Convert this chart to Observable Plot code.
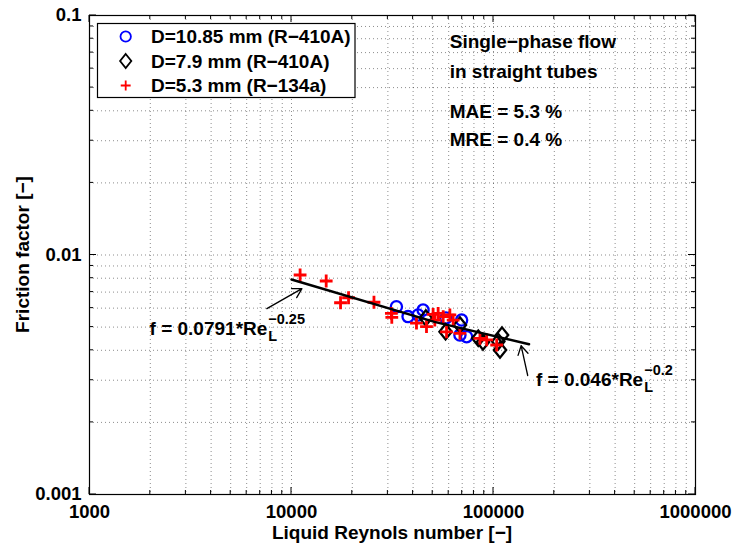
<!DOCTYPE html>
<html><head><meta charset="utf-8">
<script src="https://cdn.jsdelivr.net/npm/d3@7"></script>
<script src="https://cdn.jsdelivr.net/npm/@observablehq/plot@0.6"></script>
<style>
body{margin:0;background:#fff;}
#chart{width:736px;height:544px;}
</style></head><body><div id="chart"></div>
<script>
// ---- data ----
const seriesNames = ["D=10.85 mm (R\u2212410A)", "D=7.9 mm (R\u2212410A)", "D=5.3 mm (R\u2212134a)"];
const circRe = [33070, 37760, 44810, 42330, 69520, 68200, 73600, 58120];
const circF  = [0.00608, 0.00553, 0.00589, 0.00562, 0.00535, 0.00463, 0.00456, 0.00546];
const diamRe = [46230, 57900, 84040, 105600, 107700, 68200, 88700, 110200];
const diamF  = [0.00546, 0.00478, 0.00449, 0.00435, 0.00401, 0.00510, 0.00433, 0.00463];
const plusRe = [11030, 14850, 17490, 19160, 25600, 31220, 31370, 41560, 46590, 50240, 53200, 56350, 60810, 58550, 68200, 85710, 92520, 103700, 51220, 63140];
const plusF  = [0.00825, 0.00779, 0.00632, 0.00663, 0.00635, 0.00571, 0.00549, 0.00519, 0.00502, 0.00565, 0.00571, 0.00553, 0.00562, 0.00478, 0.00471, 0.00449, 0.00442, 0.00421, 0.00535, 0.00535];
const fitRe = [10000, 51000, 150000];
const fitF  = [0.0079, 0.00526, 0.00424];
const xTickLabels = [1000, 10000, 100000, 1000000];
const yTickLabels = [0.001, 0.01, 0.1];
const xLabel = "Liquid Reynols number [\u2212]";
const yLabel = "Friction factor [\u2212]";
const noteText = ["Single\u2212phase flow", "in straight tubes", "MAE = 5.3 %", "MRE = 0.4 %"];
const noteRe = [60700, 60700, 60700, 60700];
const noteF  = [0.0777, 0.0582, 0.0396, 0.0302];
const arrowRe1 = [7551, 147700];
const arrowF1  = [0.00597, 0.00314];
const arrowRe2 = [11260, 137000];
const arrowF2  = [0.00724, 0.00418];
const formulaMain = ["f = 0.0791*Re", "f = 0.046*Re"];
const formulaSup  = ["\u22120.25", "\u22120.2"];
const formulaRe = [1994, 163200];
const formulaF  = [0.00494, 0.0030];

// ---- tables ----
const circles = circRe.map((x, i) => ({x, y: circF[i]}));
const diamonds = diamRe.map((x, i) => ({x, y: diamF[i]}));
const pluses = plusRe.map((x, i) => ({x, y: plusF[i]}));
const fit = fitRe.map((x, i) => ({x, y: fitF[i]}));
const notes = noteText.map((t, i) => ({t, x: noteRe[i], y: noteF[i]}));
const arrows = arrowRe1.map((x1, i) => ({x1, y1: arrowF1[i], x2: arrowRe2[i], y2: arrowF2[i]}));

const symDiamond = {draw(ctx, size) {
  const h = Math.sqrt(size) * 0.66, w = h * 0.8;
  ctx.moveTo(0, -h); ctx.lineTo(w, 0); ctx.lineTo(0, h); ctx.lineTo(-w, 0); ctx.closePath();
}};
const xGrid = d3.scaleLog().domain([1e3, 1e6]).ticks();
const yGrid = d3.scaleLog().domain([1e-3, 1e-1]).ticks();
const font = "'Liberation Sans', Arial, Helvetica, sans-serif";
const ML = 89, MR = 41, MT = 15, MB = 50, W = 736, H = 544;

const chart = Plot.plot({
  width: W, height: H, marginLeft: ML, marginRight: MR, marginTop: MT, marginBottom: MB,
  style: {fontFamily: font, fontSize: "18.5px", fontWeight: "bold", color: "#000", background: "#fff", overflow: "visible"},
  x: {type: "log", domain: [1e3, 1e6], ticks: xTickLabels, tickFormat: d => String(d), tickSize: 0, tickPadding: 10, label: null},
  y: {type: "log", domain: [1e-3, 1e-1], ticks: yTickLabels, tickFormat: d => String(d), tickSize: 0, tickPadding: 8, label: null},
  marks: [
    Plot.ruleX(xGrid, {stroke: "#000", strokeOpacity: 0.45, strokeDasharray: "1,3"}),
    Plot.ruleY(yGrid, {stroke: "#000", strokeOpacity: 0.45, strokeDasharray: "1,3"}),
    Plot.text(notes, {x: "x", y: "y", text: "t", textAnchor: "start", lineAnchor: "middle", fontSize: 19, fill: "#000"}),
    Plot.dot(circles, {x: "x", y: "y", r: 5.6, symbol: "circle", stroke: "#0000ff", strokeWidth: 2.3, fill: "none"}),
    Plot.dot(diamonds, {x: "x", y: "y", r: 6.6, symbol: symDiamond, stroke: "#000", strokeWidth: 2.3, fill: "none"}),
    Plot.dot(pluses, {x: "x", y: "y", r: 4.2, symbol: "plus", stroke: "#ff0000", strokeWidth: 2.8, fill: "none"}),
    Plot.line(fit, {x: "x", y: "y", stroke: "#000", strokeWidth: 2.4}),
    Plot.arrow(arrows, {x1: "x1", y1: "y1", x2: "x2", y2: "y2", stroke: "#000", strokeWidth: 1.3, headLength: 12, bend: 0}),
    Plot.frame({stroke: "#000", strokeWidth: 1.2})
  ]
});
document.getElementById("chart").appendChild(chart);

const svg = d3.select(chart);
const sx = chart.scale("x"), sy = chart.scale("y");
const L = ML, R = W - MR, T = MT, B = H - MB;

// inner ticks on all four sides
const tk = svg.append("g").attr("stroke", "#000").attr("stroke-width", 1);
xGrid.forEach(v => {
  const X = sx.apply(v), major = Math.abs(Math.log10(v) - Math.round(Math.log10(v))) < 1e-9;
  const len = major ? 7 : 4;
  tk.append("line").attr("x1", X).attr("x2", X).attr("y1", B).attr("y2", B - len);
  tk.append("line").attr("x1", X).attr("x2", X).attr("y1", T).attr("y2", T + len);
});
yGrid.forEach(v => {
  const Y = sy.apply(v), major = Math.abs(Math.log10(v) - Math.round(Math.log10(v))) < 1e-9;
  const len = major ? 7 : 4;
  tk.append("line").attr("y1", Y).attr("y2", Y).attr("x1", L).attr("x2", L + len);
  tk.append("line").attr("y1", Y).attr("y2", Y).attr("x1", R).attr("x2", R - len);
});

// axis labels
svg.append("text").attr("x", (L + R) / 2).attr("y", 532).attr("dy", "0.35em")
  .attr("text-anchor", "middle").attr("font-size", 19).attr("fill", "#000").text(xLabel);
svg.append("text").attr("transform", `translate(22,${(T + B) / 2}) rotate(-90)`).attr("dy", "0.35em")
  .attr("text-anchor", "middle").attr("font-size", 19).attr("fill", "#000").text(yLabel);

// formulas with sub/superscripts
formulaMain.forEach((m, i) => {
  const x0 = sx.apply(formulaRe[i]), yc = sy.apply(formulaF[i]);
  const t = svg.append("text").attr("x", x0).attr("y", yc).attr("dy", "0.35em")
    .attr("text-anchor", "start").attr("font-size", 19).attr("fill", "#000").text(m);
  const w = t.node().getComputedTextLength();
  const base = yc + 19 * 0.35;
  svg.append("text").attr("x", x0 + w + 1).attr("y", base + 6).attr("text-anchor", "start")
    .attr("font-size", 14.5).attr("fill", "#000").text("L");
  svg.append("text").attr("x", x0 + w + 1).attr("y", base - 11).attr("text-anchor", "start")
    .attr("font-size", 14.5).attr("fill", "#000").text(formulaSup[i]);
});

// legend
const lg = svg.append("g");
lg.append("rect").attr("x", 97.5).attr("y", 23.5).attr("width", 257.5).attr("height", 74)
  .attr("fill", "#fff").attr("stroke", "#000").attr("stroke-width", 1.2);
const rows = [36.5, 61, 85.5];
const legSym = [
  {p: d3.symbol(d3.symbolCircle, Math.PI * 5.2 * 5.2)(), c: "#0000ff", w: 1.8},
  {p: d3.symbol(symDiamond, Math.PI * 36)(), c: "#000", w: 1.8},
  {p: d3.symbol(d3.symbolPlus, 34)(), c: "#ff0000", w: 1.8}
];
seriesNames.forEach((n, i) => {
  lg.append("path").attr("d", legSym[i].p).attr("transform", `translate(125.7,${rows[i]})`)
    .attr("fill", "none").attr("stroke", legSym[i].c).attr("stroke-width", legSym[i].w);
  lg.append("text").attr("x", 151).attr("y", rows[i]).attr("dy", "0.35em")
    .attr("text-anchor", "start").attr("font-size", 19).attr("fill", "#000").text(n);
});
</script>
</body></html>
